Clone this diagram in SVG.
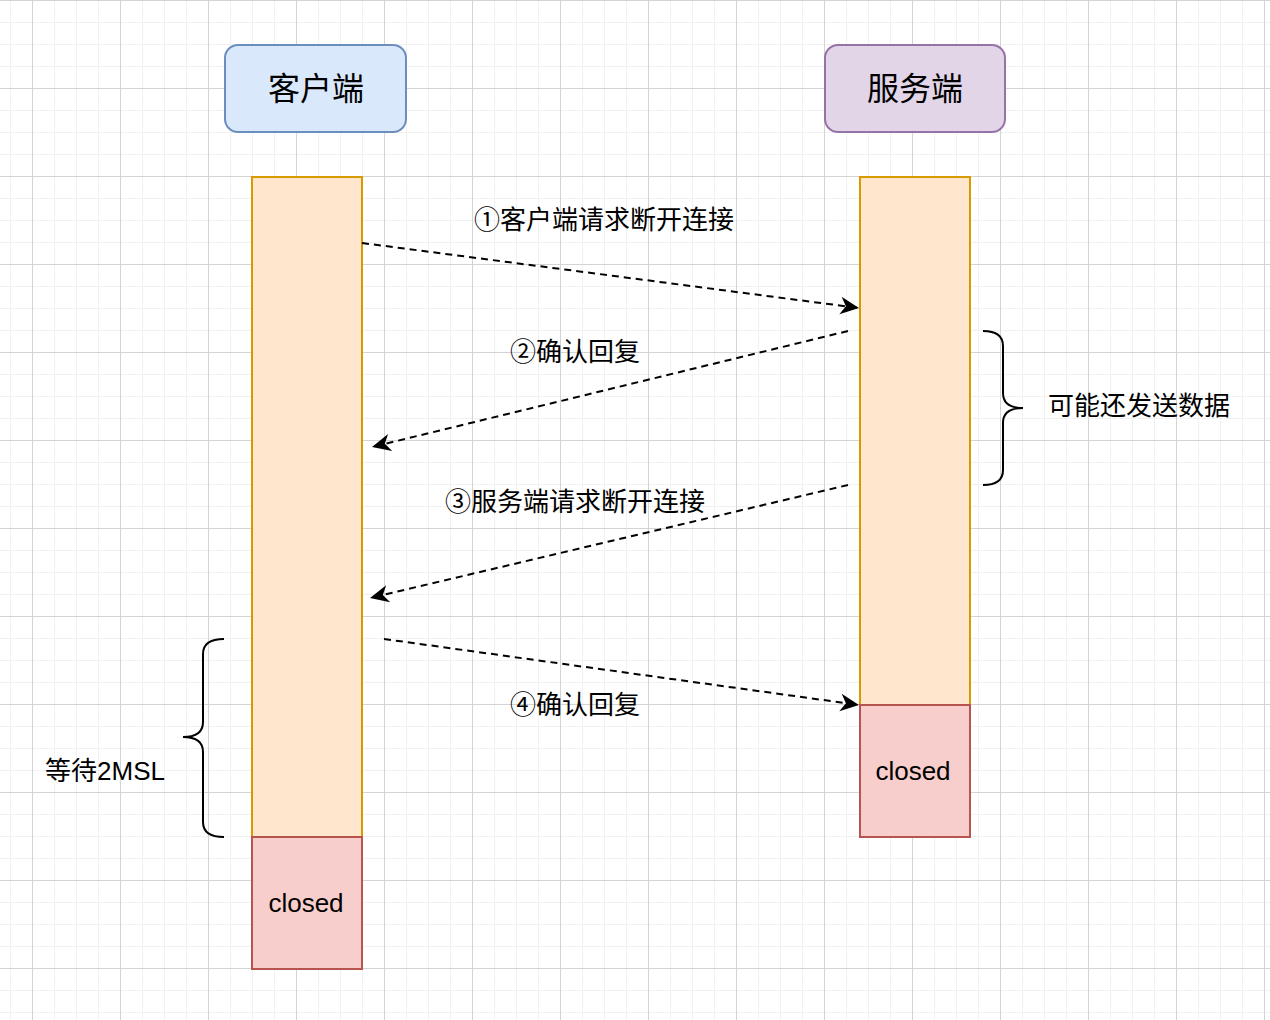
<svg xmlns="http://www.w3.org/2000/svg" width="1270" height="1020" viewBox="0 0 1270 1020">
  <defs>
    <pattern id="gmin" width="22" height="22" patternUnits="userSpaceOnUse" x="10" y="0">
      <path d="M0.5 0V22M0 0.5H22" stroke="#f1f1f1" stroke-width="1" fill="none"/>
    </pattern>
    <pattern id="gmaj" width="88" height="88" patternUnits="userSpaceOnUse" x="32" y="0">
      <path d="M0.5 0V88M0 0.5H88" stroke="#d4d4d4" stroke-width="1" fill="none"/>
    </pattern>
    <marker id="arr" markerUnits="userSpaceOnUse" markerWidth="22" markerHeight="22" viewBox="-18 -9 20 18" refX="0" refY="0" orient="auto">
      <path d="M0,0 L-17,-8 L-12,0 L-17,8 Z" fill="#000"/>
    </marker>
    <style>
      text { font-family: "Liberation Sans", "Noto Sans CJK SC", sans-serif; fill: #000; }
      .hdr { font-size: 32px; text-anchor: middle; }
      .lbl { font-size: 26px; text-anchor: middle; }
      .cl { font-size: 26px; text-anchor: middle; }
      .life { fill: #ffe6cc; stroke: #d79b00; stroke-width: 2; }
      .closed { fill: #f8cecc; stroke: #b85450; stroke-width: 2; }
      .msg { fill: none; stroke: #000; stroke-width: 2; stroke-dasharray: 7 5; marker-end: url(#arr); }
      .brace { fill: none; stroke: #000; stroke-width: 2; }
    </style>
  </defs>
  <rect width="1270" height="1020" fill="#fff"/>
  <rect width="1270" height="1020" fill="url(#gmin)"/>
  <rect width="1270" height="1020" fill="url(#gmaj)"/>

  <g id="client-header">
    <rect x="225" y="45" width="181" height="87" rx="13" fill="#dae8fc" stroke="#6c8ebf" stroke-width="2"/>
    <text class="hdr" x="316" y="100">客户端</text>
  </g>
  <g id="server-header">
    <rect x="825" y="45" width="180" height="87" rx="13" fill="#e1d5e7" stroke="#9673a6" stroke-width="2"/>
    <text class="hdr" x="915" y="100">服务端</text>
  </g>
  <g id="client-life">
    <rect class="life" x="252" y="177" width="110" height="660"/>
  </g>
  <g id="client-closed">
    <rect class="closed" x="252" y="837" width="110" height="132"/>
    <text class="cl" x="306" y="912">closed</text>
  </g>
  <g id="server-life">
    <rect class="life" x="860" y="177" width="110" height="528"/>
  </g>
  <g id="server-closed">
    <rect class="closed" x="860" y="705" width="110" height="132"/>
    <text class="cl" x="913" y="780">closed</text>
  </g>

  <g id="connectors">
    <path class="msg" d="M362,243 L859,308"/>
    <path class="msg" d="M848,331 L372,447"/>
    <path class="msg" d="M848,485 L370,598"/>
    <path class="msg" d="M384,639 L859,705"/>
  </g>

  <g id="labels">
    <text class="lbl" x="604" y="229">①客户端请求断开连接</text>
    <text class="lbl" x="575" y="361">②确认回复</text>
    <text class="lbl" x="575" y="511">③服务端请求断开连接</text>
    <text class="lbl" x="575" y="714">④确认回复</text>
  </g>

  <g id="brace-right">
    <path class="brace" d="M983,331 Q1003,331 1003,346 L1003,393 Q1003,408 1023,408 Q1003,408 1003,423 L1003,470 Q1003,485 983,485"/>
    <text class="lbl" x="1139" y="415">可能还发送数据</text>
  </g>
  <g id="brace-left">
    <path class="brace" d="M224,639 Q203,639 203,654 L203,722 Q203,737 183,737 Q203,737 203,752 L203,822 Q203,837 224,837"/>
    <text class="lbl" x="105" y="780">等待2MSL</text>
  </g>
</svg>
